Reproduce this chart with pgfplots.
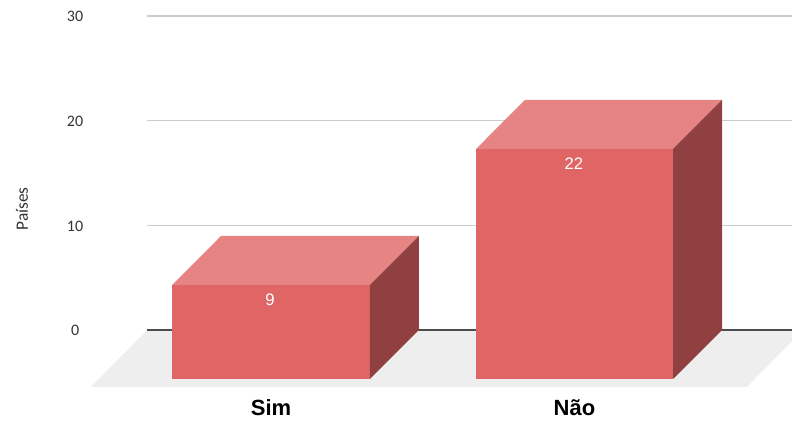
\documentclass[border=0pt]{standalone}
\usepackage{fontspec}
\setmainfont{Carlito}
\newfontfamily\lib{Liberation Sans}
\usepackage{pgfplots}
\pgfplotsset{compat=1.18}
\definecolor{front}{HTML}{E06666}
\definecolor{topf}{HTML}{E68484}
\definecolor{side}{HTML}{904040}
\definecolor{floorc}{HTML}{EEEEEE}
\definecolor{gridc}{HTML}{CCCCCC}
\definecolor{txt}{HTML}{333333}
\begin{document}
\begin{tikzpicture}
\begin{axis}[
  scale only axis, width=594pt, height=313.5pt,
  xmin=-0.8929, xmax=1.7166, ymin=-8.405, ymax=31.52,
  axis line style={draw=none}, tick style={draw=none},
  /pgf/number format/assume math mode=true,
  xtick={0,1}, xticklabels={Sim,Não},
  ytick={0,10,20,30},
  major tick length=0pt,
  xticklabel style={font=\lib\bfseries\fontsize{16.5}{18}\selectfont, text=black, anchor=center, yshift=7.5pt},
  yticklabel style={font=\fontsize{12}{14}\selectfont, text=txt, anchor=center, xshift=56.3pt, yshift=-0.6pt},
  ylabel={Países},
  every axis y label/.style={at={(axis description cs:0.0278,0.5)},rotate=90,anchor=center,font=\fontsize{13}{15}\selectfont,text=txt},
]
% gridlines
\addplot[gridc, line width=0.9pt, forget plot] coordinates {(-0.4086,10)(1.7166,10)};
\addplot[gridc, line width=0.9pt, forget plot] coordinates {(-0.4086,20)(1.7166,20)};
\addplot[gridc, line width=0.9pt, forget plot] coordinates {(-0.4086,30)(1.7166,30)};
% floor
\addplot[fill=floorc, draw=none, forget plot] coordinates {(-0.4086,0)(1.753,0)(1.568,-5.44)(-0.593,-5.44)} -- cycle;
\addplot[black!70, line width=1.1pt, forget plot] coordinates {(-0.4086,0)(1.7166,0)};
% Sim
\addplot[fill=front, draw=none, forget plot] coordinates {(-0.326,-4.68)(0.326,-4.68)(0.326,4.30)(-0.326,4.30)} -- cycle;
\addplot[fill=topf, draw=none, forget plot] coordinates {(-0.326,4.30)(0.326,4.30)(0.4876,8.98)(-0.1647,8.98)} -- cycle;
\addplot[fill=side, draw=none, forget plot] coordinates {(0.326,-4.68)(0.4876,0)(0.4876,8.98)(0.326,4.30)} -- cycle;
% Não
\addplot[fill=front, draw=none, forget plot] coordinates {(0.6755,-4.68)(1.3245,-4.68)(1.3245,17.29)(0.6755,17.29)} -- cycle;
\addplot[fill=topf, draw=none, forget plot] coordinates {(0.6755,17.29)(1.3245,17.29)(1.486,21.97)(0.8369,21.97)} -- cycle;
\addplot[fill=side, draw=none, forget plot] coordinates {(1.3245,-4.68)(1.486,0)(1.486,21.97)(1.3245,17.29)} -- cycle;
% data labels
\addplot[draw=none, mark=none, forget plot, point meta=explicit symbolic,
  nodes near coords, nodes near coords align={center},
  every node near coord/.style={font=\lib\fontsize{12.5}{14}\selectfont, text=white, anchor=center, inner sep=0pt}]
  coordinates {(-0.003,2.88)[9] (0.998,15.87)[22]};
\end{axis}
\end{tikzpicture}
\end{document}
